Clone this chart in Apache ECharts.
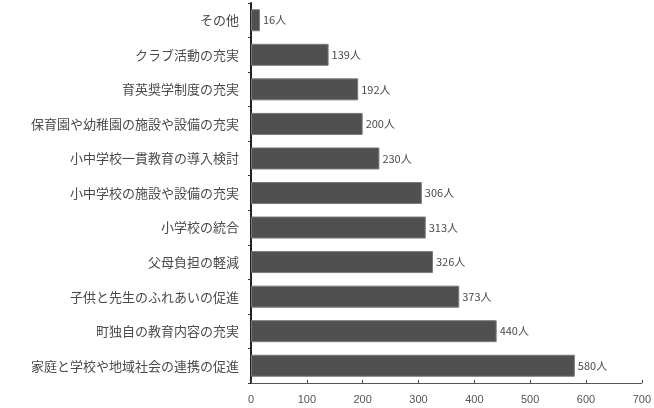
<!DOCTYPE html>
<html><head><meta charset="utf-8">
<script src="https://cdn.jsdelivr.net/npm/echarts@6/dist/echarts.min.js"></script>
<style>html,body{margin:0;padding:0;background:#fff}#c{width:654px;height:408px}</style>
</head><body><div id="c"></div>
<script>
const categories = [
  'その他',
  'クラブ活動の充実',
  '育英奨学制度の充実',
  '保育園や幼稚園の施設や設備の充実',
  '小中学校一貫教育の導入検討',
  '小中学校の施設や設備の充実',
  '小学校の統合',
  '父母負担の軽減',
  '子供と先生のふれあいの促進',
  '町独自の教育内容の充実',
  '家庭と学校や地域社会の連携の促進'
];
const values = [16, 139, 192, 200, 230, 306, 313, 326, 373, 440, 580];
const xTicks = [0, 100, 200, 300, 400, 500, 600, 700];

const chart = echarts.init(document.getElementById('c'));
chart.setOption({
  animation: false,
  grid: { left: 251, right: 8, top: 3, bottom: 25 },
  xAxis: {
    type: 'value', min: 0, max: 700, interval: 100,
    axisLine: { show: true, lineStyle: { color: '#555' } },
    axisTick: { show: true, inside: true, length: 3, lineStyle: { color: '#444' } },
    splitLine: { show: false },
    axisLabel: { color: '#555', fontSize: 11, fontFamily: 'Liberation Sans', margin: 11,
      formatter: v => xTicks.includes(v) ? String(v) : '' }
  },
  yAxis: {
    type: 'category', data: categories, inverse: true,
    axisLine: { show: true, lineStyle: { color: '#222', width: 2 } },
    axisTick: { show: true, length: 3, lineStyle: { color: '#333' } },
    axisLabel: { color: '#4a4a4a', fontSize: 13, fontFamily: 'Noto Sans CJK JP', margin: 12 }
  },
  series: [{
    type: 'bar', data: values, barWidth: 22,
    itemStyle: { color: '#505050', borderColor: '#7a7a7a', borderWidth: 1 },
    label: { show: true, position: 'right', distance: 3, formatter: '{c}人',
      color: '#4a4a4a', fontSize: 11, fontFamily: 'Noto Sans CJK JP' }
  }]
});
</script></body></html>
